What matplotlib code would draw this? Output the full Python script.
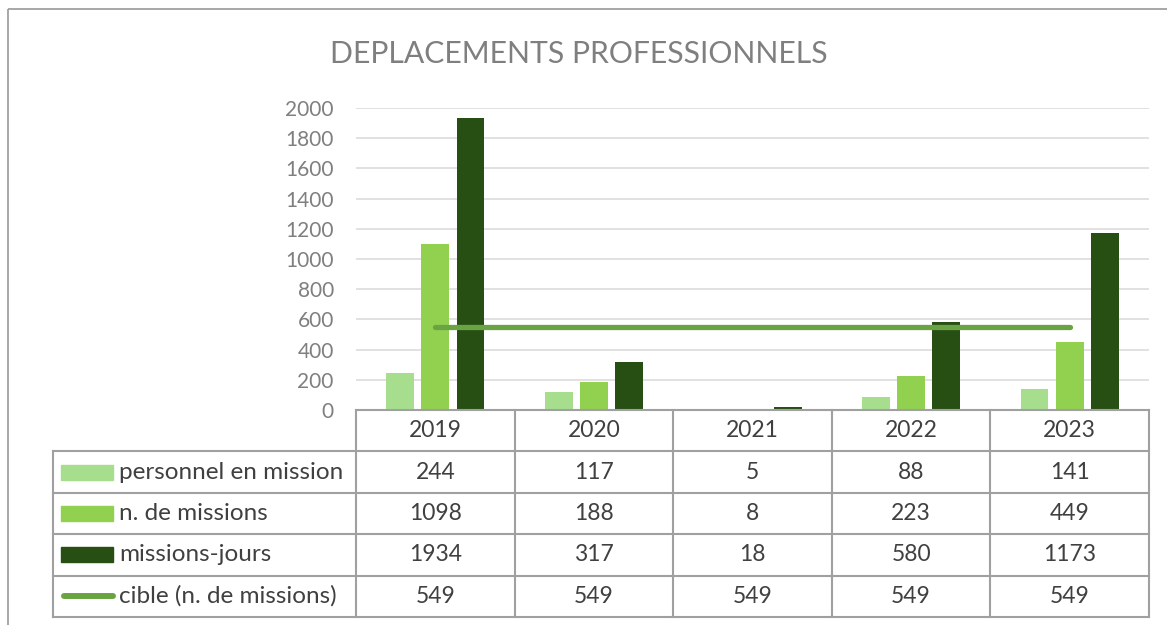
import matplotlib
matplotlib.use("Agg")
import matplotlib.pyplot as plt
import matplotlib.patches as patches
import numpy as np

plt.rcParams['font.family'] = ['Lato', 'DejaVu Sans']

years = ['2019', '2020', '2021', '2022', '2023']
personnel = [244, 117, 5, 88, 141]
missions = [1098, 188, 8, 223, 449]
jours = [1934, 317, 18, 580, 1173]
cible = [549, 549, 549, 549, 549]

labels = ['personnel en mission', 'n. de missions', 'missions-jours', 'cible (n. de missions)']
colors = ['#a6de8e', '#92d050', '#274e13']
line_col = '#6aa442'

W, H = 1167, 625
fig = plt.figure(figsize=(W / 100, H / 100), dpi=100)

# outer chart border
fig.patches.append(patches.Rectangle((8 / W, 1 - 9 / H), 1.2, -1.2, transform=fig.transFigure,
                                     fill=False, edgecolor='#a0a0a0', linewidth=1.3))

fig.text(579 / W, 1 - 63 / H, 'DEPLACEMENTS PROFESSIONNELS', ha='center', va='baseline',
         fontsize=21.7, color='#7f7f7f')

# plot area
px_l, px_r, px_b, px_t = 356, 1149, 410, 108
ax = fig.add_axes([px_l / W, 1 - px_b / H, (px_r - px_l) / W, (px_b - px_t) / H])
x = np.arange(len(years))
bw = 0.175
off = 0.222
ax.bar(x - off, personnel, bw, color=colors[0], zorder=3)
ax.bar(x, missions, bw, color=colors[1], zorder=3)
ax.bar(x + off, jours, bw, color=colors[2], zorder=3)
ax.plot(x, cible, color=line_col, lw=3.8, solid_capstyle='round', zorder=4)
ax.set_xlim(-0.5, len(years) - 0.5)
ax.set_ylim(0, 2000)
ax.set_yticks(range(0, 2001, 200))
ax.yaxis.grid(True, color='#d9d9d9', lw=1.1, zorder=0)
ax.set_xticks([])
ax.tick_params(axis='y', length=0, pad=16, labelsize=15, labelcolor='#7f7f7f')
for s in ['left', 'right', 'top', 'bottom']:
    ax.spines[s].set_visible(False)

# data table under the chart
unit = (px_r - px_l) / len(years)
leg_w = (px_l - 53) / unit
tab_b = 617
tab = fig.add_axes([53 / W, 1 - tab_b / H, (px_r - 53) / W, (tab_b - px_b) / H])
tab.set_xlim(-0.5 - leg_w, len(years) - 0.5)
tab.set_ylim(5, 0)
tab.axis('off')
gc = '#a0a0a0'
glw = 1.5
tab.plot([-0.5, len(years) - 0.5], [0, 0], color=gc, lw=glw, clip_on=False)
for r in range(1, 6):
    tab.plot([-0.5 - leg_w, len(years) - 0.5], [r, r], color=gc, lw=glw, clip_on=False)
for c in range(len(years) + 1):
    tab.plot([c - 0.5, c - 0.5], [0, 5], color=gc, lw=glw, clip_on=False)
tab.plot([-0.5 - leg_w] * 2, [1, 5], color=gc, lw=glw, clip_on=False)

tc = '#404040'
fs = 16.5
for i, y in enumerate(years):
    tab.text(i, 0.5, y, ha='center', va='center', fontsize=fs, color=tc)
rows = [personnel, missions, jours, cible]
for r, vals in enumerate(rows):
    for i, v in enumerate(vals):
        tab.text(i, r + 1.5, str(v), ha='center', va='center', fontsize=fs, color=tc)

x0 = -0.5 - leg_w
sw_l = x0 + 8 / unit
sw_w = 52 / unit
for r in range(3):
    tab.add_patch(patches.Rectangle((sw_l, r + 1.5 - 0.18), sw_w, 0.36, color=colors[r], clip_on=False))
tab.plot([sw_l + 0.02, sw_l + sw_w], [4.5, 4.5], color=line_col, lw=4.3, solid_capstyle='round', clip_on=False)
for r, lab in enumerate(labels):
    tab.text(x0 + 66 / unit, r + 1.5, lab, ha='left', va='center', fontsize=17.5, color=tc)

fig.savefig('out.png', dpi=100)
